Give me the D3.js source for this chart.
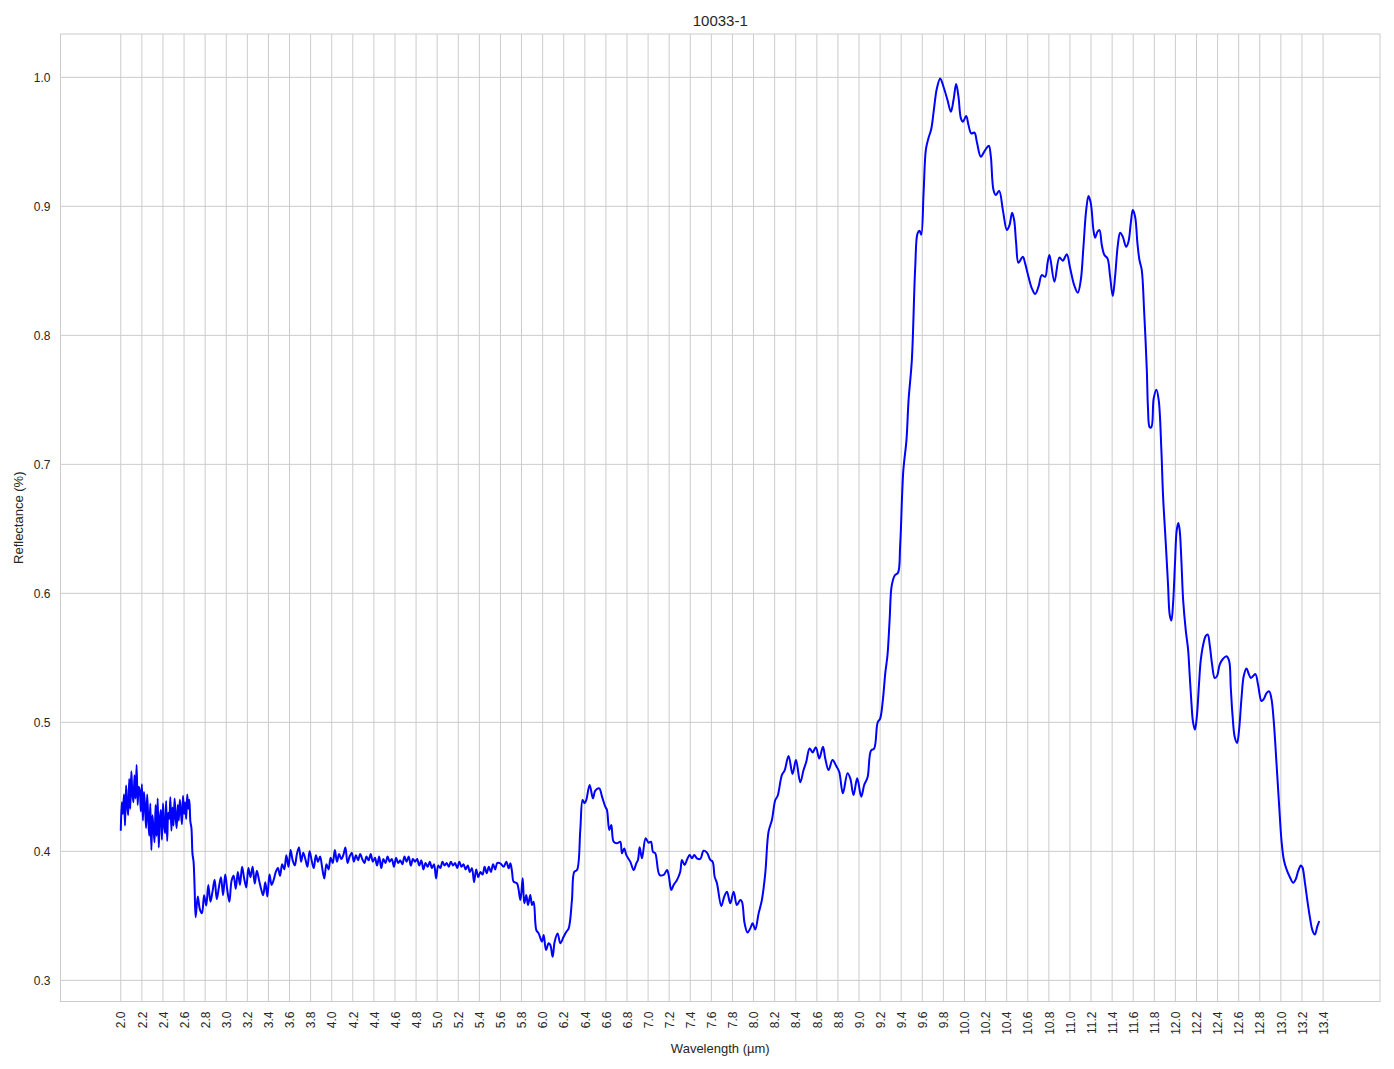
<!DOCTYPE html>
<html><head><meta charset="utf-8">
<script src="https://cdn.jsdelivr.net/npm/d3@7"></script>
<style>
body{margin:0;background:#fff;}
svg{display:block;font-family:"Liberation Sans",Arial,sans-serif;}
</style>
</head><body>
<svg id="chart" width="1394" height="1069"></svg>
<script>
const chartTitle = "10033-1";
const xLabel = "Wavelength (µm)";
const yLabel = "Reflectance (%)";

const xTicks = [2.0,2.2,2.4,2.6,2.8,3.0,3.2,3.4,3.6,3.8,4.0,4.2,4.4,4.6,4.8,5.0,5.2,5.4,5.6,5.8,
  6.0,6.2,6.4,6.6,6.8,7.0,7.2,7.4,7.6,7.8,8.0,8.2,8.4,8.6,8.8,9.0,9.2,9.4,9.6,9.8,
  10.0,10.2,10.4,10.6,10.8,11.0,11.2,11.4,11.6,11.8,12.0,12.2,12.4,12.6,12.8,13.0,13.2,13.4];
const yTicks = [0.3,0.4,0.5,0.6,0.7,0.8,0.9,1.0];

// Noisy short-wave part, regularly sampled: 2.00 .. 2.70 µm
const noisyARange = [2.00, 2.70];
const noisyAValues = [
  0.416,0.438,0.429,0.444,0.420,0.451,0.437,0.428,0.456,0.433,
  0.462,0.445,0.438,0.459,0.441,0.467,0.436,0.450,0.447,0.431,
  0.452,0.424,0.446,0.435,0.418,0.444,0.426,0.412,0.437,0.401,
  0.428,0.418,0.407,0.436,0.412,0.441,0.403,0.425,0.432,0.409,
  0.437,0.421,0.414,0.439,0.408,0.430,0.425,0.442,0.416,0.434,
  0.420,0.441,0.427,0.418,0.436,0.424,0.440,0.431,0.421,0.443,
  0.429,0.438,0.425,0.444,0.433,0.440,0.423,0.418,0.398,0.392,
  0.372];

// Noisy mid part, regularly sampled: 2.71 .. 5.57 µm
const noisyBRange = [2.71, 5.57];
const noisyBValues = [
  0.349,0.365,0.355,0.352,0.366,0.358,0.374,0.361,0.369,0.378,
  0.363,0.372,0.380,0.366,0.382,0.370,0.361,0.377,0.381,0.371,
  0.384,0.374,0.388,0.379,0.372,0.387,0.380,0.388,0.375,0.385,
  0.378,0.371,0.366,0.376,0.365,0.382,0.374,0.378,0.384,0.387,
  0.381,0.390,0.386,0.397,0.388,0.401,0.393,0.389,0.398,0.403,
  0.392,0.399,0.394,0.388,0.400,0.393,0.387,0.397,0.392,0.396,
  0.387,0.379,0.390,0.386,0.395,0.391,0.401,0.392,0.398,0.394,
  0.397,0.403,0.391,0.396,0.399,0.392,0.397,0.393,0.398,0.394,
  0.391,0.396,0.393,0.398,0.392,0.395,0.389,0.396,0.387,0.394,
  0.391,0.396,0.392,0.394,0.388,0.395,0.391,0.393,0.390,0.396,
  0.392,0.396,0.389,0.394,0.392,0.394,0.389,0.393,0.386,0.391,
  0.388,0.392,0.387,0.390,0.379,0.389,0.387,0.392,0.389,0.391,
  0.388,0.392,0.389,0.391,0.387,0.392,0.388,0.390,0.386,0.389,
  0.384,0.387,0.376,0.386,0.380,0.384,0.382,0.388,0.383,0.388,
  0.384,0.390,0.386,0.391];

// Smoother long-wave part
const smoothWavelengths = [
  5.599,5.631,5.656,5.678,5.694,5.71,5.725,5.757,5.789,5.811,5.826,5.845,5.861,5.883,5.899,5.915,
  5.94,5.962,5.994,6.01,6.032,6.057,6.073,6.095,6.114,6.142,6.168,6.199,6.225,6.247,6.278,6.30,
  6.326,6.357,6.379,6.398,6.414,6.446,6.477,6.499,6.537,6.563,6.594,6.61,6.632,6.651,6.673,6.705,
  6.736,6.752,6.774,6.793,6.831,6.863,6.888,6.904,6.92,6.942,6.977,7.005,7.027,7.046,7.068,7.109,
  7.147,7.179,7.195,7.22,7.242,7.274,7.305,7.321,7.346,7.368,7.394,7.416,7.438,7.463,7.495,7.526,
  7.558,7.59,7.612,7.631,7.653,7.694,7.722,7.748,7.779,7.811,7.842,7.874,7.89,7.915,7.943,7.969,
  7.991,8.016,8.048,8.079,8.111,8.142,8.174,
  8.206,8.228,8.269,8.294,8.332,8.37,8.402,8.443,8.474,8.50,8.531,8.56,8.591,8.623,8.658,8.68,
  8.711,8.749,8.784,8.812,8.847,8.891,8.917,8.948,8.983,9.021,9.049,9.081,9.113,9.144,9.176,9.201,
  9.226,9.25,9.27,9.29,9.31,9.34,9.37,9.39,9.42,9.45,9.47,
  9.501,9.533,9.555,9.574,9.59,9.612,9.634,9.659,9.685,9.713,9.738,9.77,9.801,9.839,9.871,9.896,
  9.921,9.943,9.966,9.985,10.016,10.038,10.064,10.095,10.117,10.155,10.196,10.231,10.25,10.275,10.297,10.329,
  10.364,10.402,10.427,10.452,10.471,10.49,10.512,10.553,10.575,10.607,10.639,10.67,10.702,10.733,10.765,10.787,
  10.806,10.853,10.9,10.932,10.97,11.002,11.04,11.075,11.103,11.128,11.154,11.176,11.198,11.223,11.239,11.261,
  11.28,11.302,11.327,11.356,11.381,11.406,11.428,11.454,11.476,11.501,11.533,11.555,11.577,11.596,11.618,11.64,
  11.659,11.681,11.703,11.729,
  11.740,11.756,11.772,11.794,11.82,11.842,11.867,11.883,11.908,11.93,11.946,11.962,11.978,11.997,12.012,12.028,
  12.041,12.057,12.073,12.098,12.12,12.136,12.152,12.167,12.186,12.205,12.224,12.24,12.262,12.288,12.307,12.326,
  12.348,12.373,12.395,12.42,12.452,12.484,12.509,12.525,12.541,12.563,12.585,12.604,12.626,12.648,12.674,12.696,
  12.715,12.737,12.759,12.785,12.816,12.838,12.864,12.889,12.911,12.933,12.959,12.984,13.006,13.028,13.054,13.085,
  13.117,13.142,13.164,13.19,13.205,13.228,13.253,13.275,13.3,13.323,13.345,13.364];
const smoothValues = [
  0.3907,0.3881,0.392,0.3868,0.3907,0.3842,0.3765,0.3752,0.3623,0.3791,0.3597,0.3661,0.3584,0.3661,0.3584,0.361,
  0.339,0.3364,0.33,0.3351,0.3235,0.3287,0.3274,0.3183,0.33,0.3364,0.3287,0.3338,0.3377,0.3403,0.3623,0.3842,
  0.3855,0.4165,0.4398,0.4372,0.4398,0.4514,0.4411,0.447,0.4488,0.4424,0.4346,0.432,0.4165,0.4204,0.4075,0.4062,
  0.4075,0.3985,0.4023,0.3972,0.392,0.3855,0.3907,0.3933,0.4031,0.3946,0.4101,0.4067,0.4075,0.3997,0.3985,0.3817,
  0.3817,0.3855,0.3817,0.370,0.3739,0.3778,0.3842,0.3933,0.3894,0.3933,0.3972,0.3946,0.3972,0.3946,0.3941,0.4005,
  0.399,0.3933,0.392,0.3804,0.3752,0.3576,0.3649,0.3687,0.3597,0.3687,0.3584,0.3623,0.361,0.3442,0.337,0.3403,
  0.3442,0.3395,0.3519,0.3623,0.3829,0.4152,0.4243,
  0.4398,0.4429,0.4592,0.4625,0.4739,0.460,0.4708,0.4535,0.4630,0.4695,0.4798,0.4767,0.4806,0.472,0.4811,0.472,
  0.463,0.4708,0.4661,0.4617,0.445,0.4605,0.4566,0.4437,0.4566,0.4424,0.4514,0.4574,0.478,0.4798,0.4997,0.5031,
  0.5173,0.539,0.552,0.579,0.606,0.614,0.616,0.637,0.695,0.719,0.750,
  0.781,0.853,0.879,0.881,0.878,0.910,0.944,0.953,0.960,0.977,0.9914,0.9992,0.9927,0.9824,0.9733,0.9824,
  0.9948,0.985,0.9682,0.9656,0.970,0.963,0.9566,0.9571,0.9501,0.9385,0.9436,0.947,0.9385,0.9126,0.9087,0.912,
  0.8971,0.8816,0.8855,0.8951,0.8894,0.8713,0.8563,0.8609,0.8558,0.8454,0.8364,0.832,0.8377,0.8467,0.8454,0.8558,
  0.8622,0.8416,0.8604,0.8579,0.8628,0.852,0.839,0.8331,0.8429,0.8687,0.8971,0.908,0.9023,0.8816,0.8757,0.8803,
  0.8816,0.870,0.8622,0.8597,0.8455,0.8305,0.8455,0.870,0.8796,0.8765,0.8687,0.8726,0.887,0.8971,0.892,0.8713,
  0.8584,0.8506,0.8196,0.773,
  0.7436,0.7288,0.7288,0.751,0.7579,0.7496,0.711,0.6754,0.6398,0.6071,0.5834,0.5789,0.5923,0.6249,0.6487,0.6546,
  0.6487,0.6249,0.5953,0.5715,0.5567,0.5359,0.5151,0.5003,0.4944,0.5062,0.530,0.5478,0.5596,0.5671,0.568,0.5596,
  0.5448,0.5344,0.5359,0.5448,0.5493,0.5513,0.5478,0.527,0.5062,0.4884,0.484,0.4944,0.5181,0.5359,0.5418,0.5374,
  0.5344,0.5359,0.5374,0.5285,0.5166,0.5181,0.5226,0.524,0.5181,0.5003,0.4677,0.435,0.4083,0.3935,0.386,0.3801,
  0.3757,0.3786,0.3846,0.389,0.3875,0.3757,0.3608,0.349,0.3386,0.3356,0.3416,0.346];

// ---- assemble points ----
function sampled(range, values){
  const n = values.length;
  const step = (range[1]-range[0])/(n-1);
  return values.map((v,i)=>({w: range[0]+i*step, v}));
}
const points = []
  .concat(sampled(noisyARange, noisyAValues))
  .concat(sampled(noisyBRange, noisyBValues))
  .concat(smoothWavelengths.map((w,i)=>({w, v: smoothValues[i]})));

// ---- layout ----
const W = 1394, H = 1069;
const plot = {left: 60.5, right: 1380, top: 34, bottom: 1001.5};
const x = d3.scaleLinear().domain([1.4284, 13.940]).range([plot.left, plot.right]);
const y = d3.scaleLinear().domain([0.2836, 1.0336]).range([plot.bottom, plot.top]);

const svg = d3.select("#chart");
svg.append("rect").attr("width", W).attr("height", H).attr("fill", "#fff");

const gridColor = "#cccccc";
const textColor = "#262626";

// grid
const grid = svg.append("g");
grid.selectAll("line.vx").data(xTicks).enter().append("line")
  .attr("x1", d=>x(d)).attr("x2", d=>x(d))
  .attr("y1", plot.top).attr("y2", plot.bottom)
  .attr("stroke", gridColor).attr("stroke-width", 1);
grid.selectAll("line.hy").data(yTicks).enter().append("line")
  .attr("x1", plot.left).attr("x2", plot.right)
  .attr("y1", d=>y(d)).attr("y2", d=>y(d))
  .attr("stroke", gridColor).attr("stroke-width", 1);

// frame
svg.append("rect")
  .attr("x", plot.left).attr("y", plot.top)
  .attr("width", plot.right-plot.left).attr("height", plot.bottom-plot.top)
  .attr("fill", "none").attr("stroke", gridColor).attr("stroke-width", 1);

// axes (labels only, like seaborn whitegrid)
const xAxis = d3.axisBottom(x).tickValues(xTicks).tickFormat(d=>d.toFixed(1)).tickSize(0).tickPadding(0);
const gx = svg.append("g").attr("transform", `translate(0,${plot.bottom})`).call(xAxis);
gx.select(".domain").remove();
gx.selectAll("text")
  .attr("font-size", 12).attr("fill", textColor)
  .attr("font-family", '"Liberation Sans",Arial,sans-serif')
  .attr("transform", "rotate(-90)")
  .attr("text-anchor", "end")
  .attr("x", -10).attr("y", 0).attr("dy", "0.35em");

const yAxis = d3.axisLeft(y).tickValues(yTicks).tickFormat(d=>d.toFixed(1)).tickSize(0).tickPadding(10);
const gy = svg.append("g").attr("transform", `translate(${plot.left},0)`).call(yAxis);
gy.select(".domain").remove();
gy.selectAll("text").attr("font-size", 12).attr("fill", textColor)
  .attr("font-family", '"Liberation Sans",Arial,sans-serif');

// line
const line = d3.line().x(d=>x(d.w)).y(d=>y(d.v)).curve(d3.curveCatmullRom.alpha(0.5));
svg.append("path").datum(points)
  .attr("d", line).attr("fill", "none")
  .attr("stroke", "#0000ff").attr("stroke-width", 2).attr("stroke-linejoin", "round");

// titles
svg.append("text").attr("x", (plot.left+plot.right)/2).attr("y", 26)
  .attr("text-anchor", "middle").attr("font-size", 15).attr("fill", textColor).text(chartTitle);
svg.append("text").attr("x", (plot.left+plot.right)/2).attr("y", 1053)
  .attr("text-anchor", "middle").attr("font-size", 13).attr("fill", textColor).text(xLabel);
svg.append("text").attr("transform", `translate(23,${(plot.top+plot.bottom)/2}) rotate(-90)`)
  .attr("text-anchor", "middle").attr("font-size", 13).attr("fill", textColor).text(yLabel);
</script>
</body></html>
